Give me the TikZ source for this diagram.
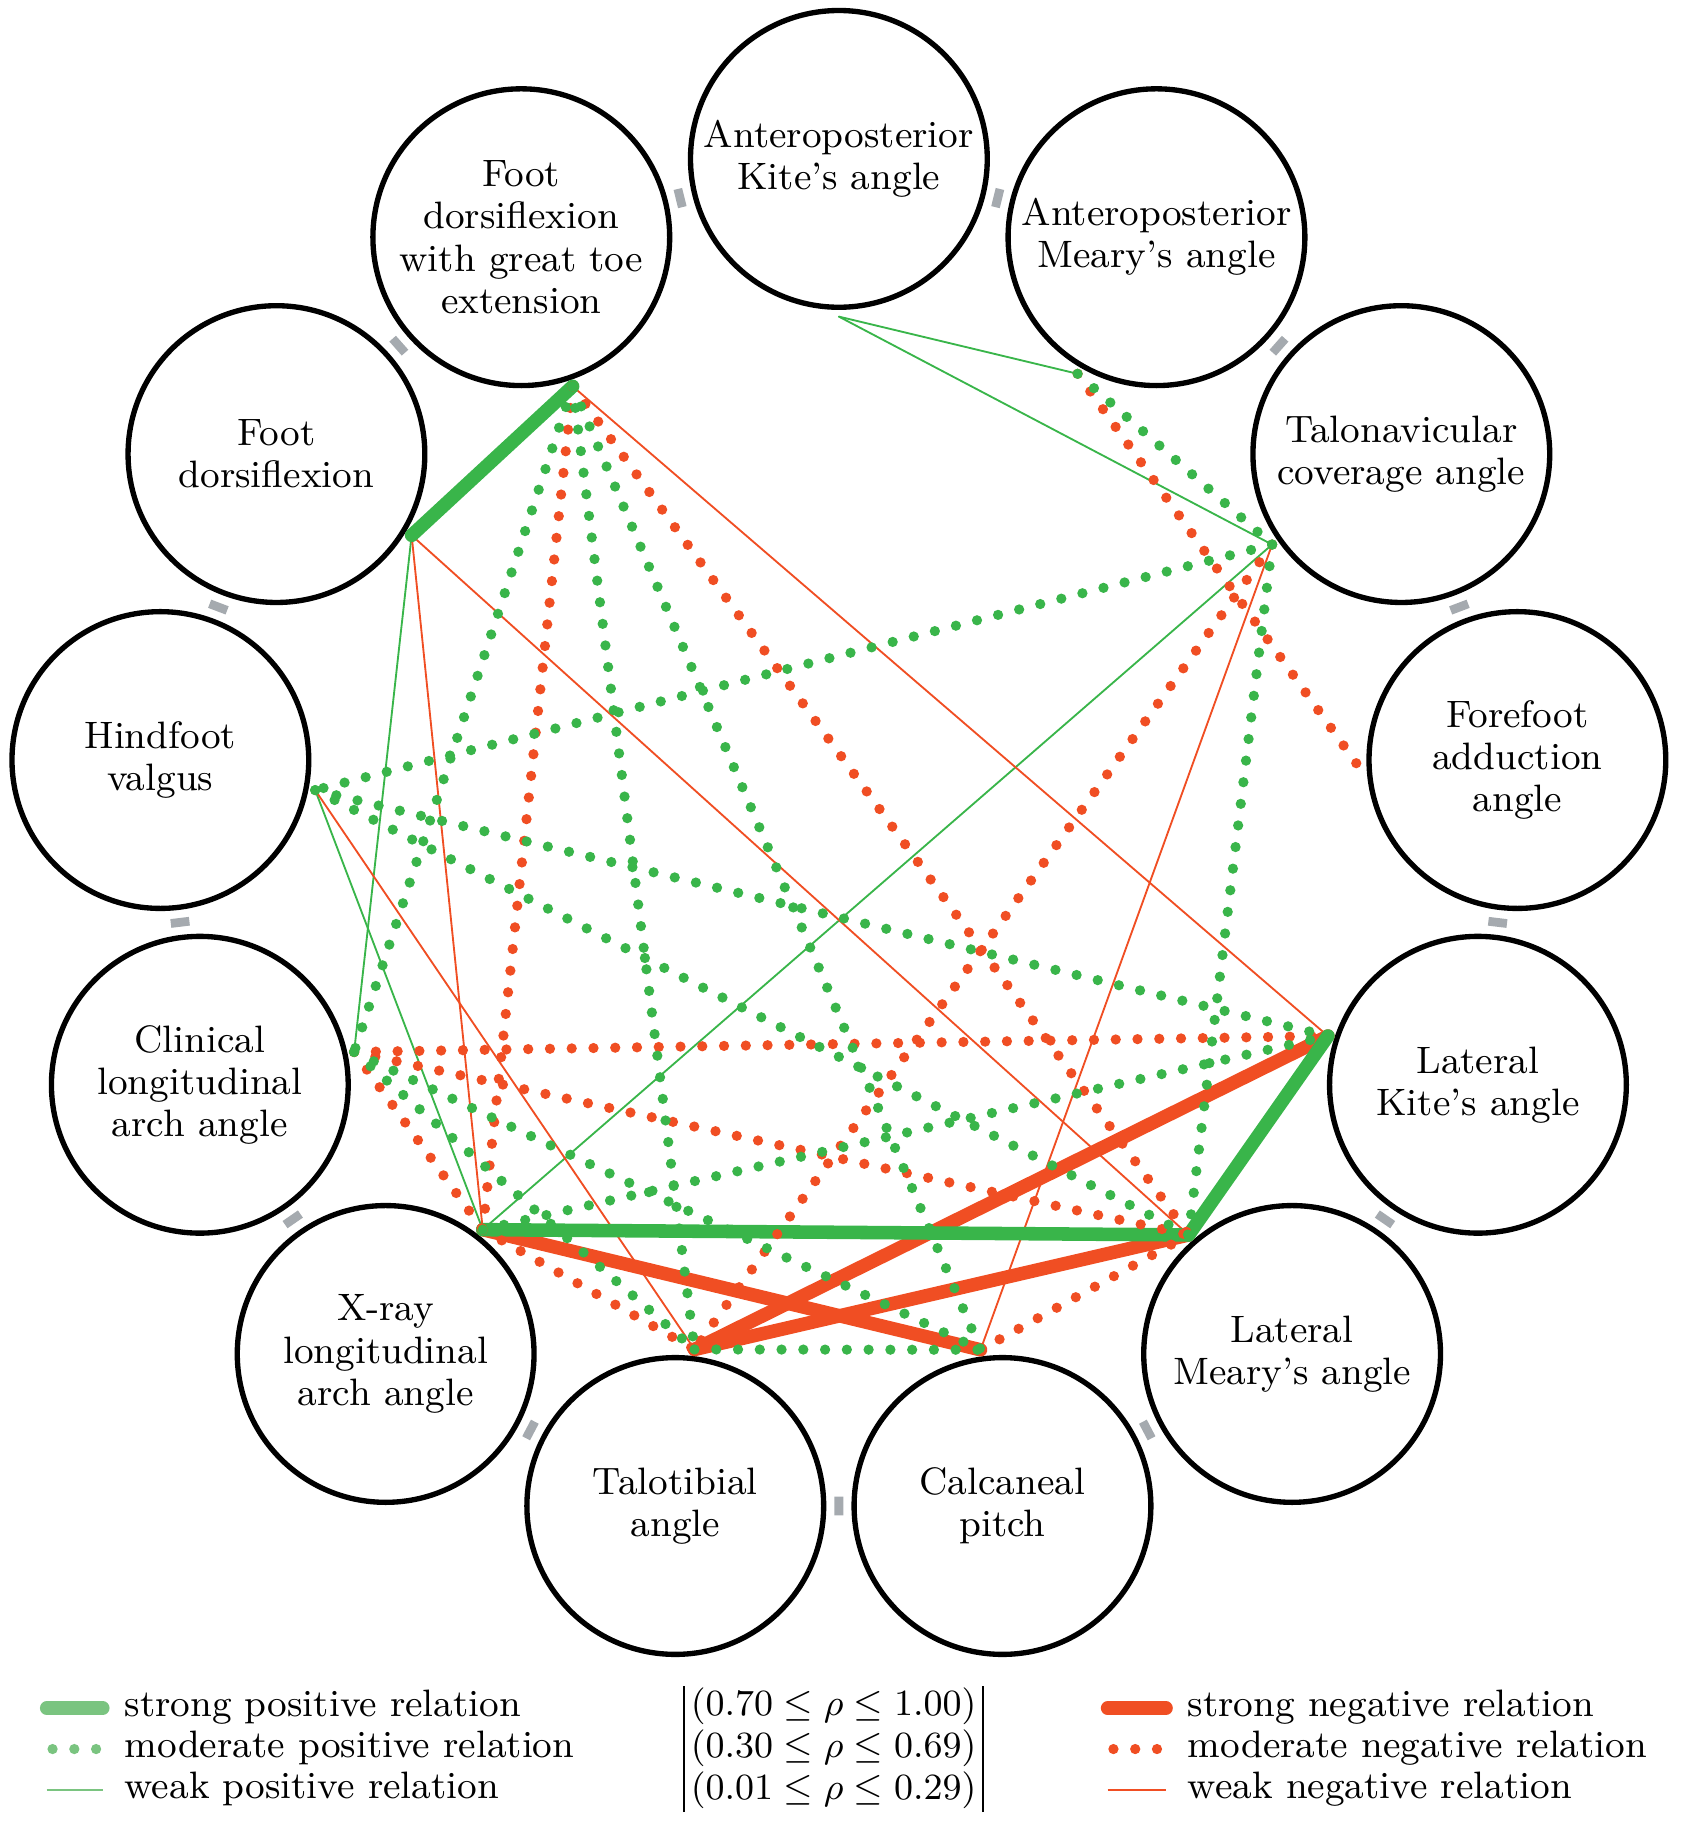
\documentclass[tikz,border=0pt]{standalone}
\usepackage{amsmath, amssymb}
\usepackage{tikz}

\definecolor{posgreen}{RGB}{57,181,74}
\definecolor{negred}{RGB}{240,78,35}
\definecolor{leggreen}{RGB}{122,196,128}
\definecolor{markgray}{RGB}{165,170,175}

\begin{document}
\begin{tikzpicture}[line cap=round]
		\tikzstyle{unit}=[draw,shape=circle,minimum size=2.54cm,inner sep=0pt,outer sep=0.08cm,line width=1.3pt,align=center,font=\fontsize{9.3}{10.25}\selectfont]
		\tikzstyle{gapmark}=[fill=markgray,minimum width=0.16cm,minimum height=0.075cm,inner sep=0pt]
		\tikzstyle{strongpos}=[posgreen,line width=3.3pt]
		\tikzstyle{modpos}=[posgreen,line width=2.5pt,dash pattern=on 0pt off 5.3pt]
		\tikzstyle{weakpos}=[posgreen,line width=0.45pt]
		\tikzstyle{strongneg}=[negred,line width=3.3pt]
		\tikzstyle{modneg}=[negred,line width=2.5pt,dash pattern=on 0pt off 5.3pt]
		\tikzstyle{weakneg}=[negred,line width=0.45pt]
		\tikzstyle{legtext}=[anchor=base west,inner sep=0pt,font=\fontsize{9.3}{10.25}\selectfont]

		\useasboundingbox (-7.18,-8.47) rectangle (7.22,7.21);

		\node[unit](apkite) at (90:5.85){Anteroposterior\\Kite's angle};
		\node[unit](apmeary) at (62.31:5.85){Anteroposterior\\Meary's angle};
		\node[unit](talonav) at (34.62:5.85){Talonavicular\\coverage angle};
		\node[unit](forefoot) at (6.92:5.85){Forefoot\\adduction\\angle};
		\node[unit](latkite) at (-20.77:5.85){Lateral\\Kite's angle};
		\node[unit](latmeary) at (-48.46:5.85){Lateral\\Meary's angle};
		\node[unit](calcaneal) at (-76.15:5.85){Calcaneal\\pitch};
		\node[unit](talotibial) at (-103.85:5.85){Talotibial\\angle};
		\node[unit](xray) at (-131.54:5.85){X-ray\\longitudinal\\arch angle};
		\node[unit](clinical) at (-159.23:5.85){Clinical\\longitudinal\\arch angle};
		\node[unit](hindfoot) at (173.08:5.85){Hindfoot\\valgus};
		\node[unit](fd) at (145.38:5.85){Foot\\dorsiflexion};
		\node[unit](fdgte) at (117.69:5.85){Foot\\dorsiflexion\\with great toe\\extension};

		\foreach \a in {0,...,12}
			\node[gapmark,rotate={76.15-\a*27.692}](g\a) at ({76.15-\a*27.692}:5.68){};

		\coordinate (apkite-p) at (apkite.-90);
		\coordinate (apmeary-p) at (apmeary.-120);
		\coordinate (talonav-p) at (talonav.-145);
		\coordinate (forefoot-p) at (forefoot.-177);
		\coordinate (latkite-p) at (latkite.162);
		\coordinate (latmeary-p) at (latmeary.131);
		\coordinate (calcaneal-p) at (calcaneal.98);
		\coordinate (talotibial-p) at (talotibial.83);
		\coordinate (xray-p) at (xray.52);
		\coordinate (clinical-p) at (clinical.12);
		\coordinate (hindfoot-p) at (hindfoot.-11);
		\coordinate (fd-p) at (fd.-31);
		\coordinate (fdgte-p) at (fdgte.-71);

		\draw[weakpos] (apkite-p) -- (apmeary-p);
		\draw[weakpos] (apkite-p) -- (talonav-p);
		\draw[weakpos] (fd-p) -- (clinical-p);
		\draw[weakpos] (hindfoot-p) -- (xray-p);
		\draw[weakpos] (xray-p) -- (talonav-p);
		\draw[weakneg] (fdgte-p) -- (latkite-p);
		\draw[weakneg] (fd-p) -- (latmeary-p);
		\draw[weakneg] (fd-p) -- (xray-p);
		\draw[weakneg] (hindfoot-p) -- (talotibial-p);
		\draw[weakneg] (talonav-p) -- (calcaneal-p);

		\draw[strongneg] (xray-p) -- (calcaneal-p);
		\draw[strongneg] (talotibial-p) -- (latkite-p);
		\draw[strongneg] (talotibial-p) -- (latmeary-p);
		\draw[strongpos] (fdgte-p) -- (fd-p);
		\draw[strongpos] (xray-p) -- (latmeary-p);
		\draw[strongpos] (latmeary-p) -- (latkite-p);

		\draw[modneg] (apmeary-p) -- (forefoot-p);
		\draw[modneg] (fdgte-p) -- (xray-p);
		\draw[modneg] (fdgte-p) -- (latmeary-p);
		\draw[modneg] (clinical-p) -- (latkite-p);
		\draw[modneg] (clinical-p) -- (latmeary-p);
		\draw[modneg] (clinical-p) -- (xray-p);
		\draw[modneg] (xray-p) -- (talotibial-p);
		\draw[modneg] (calcaneal-p) -- (latmeary-p);
		\draw[modneg] (talonav-p) -- (talotibial-p);

		\draw[modpos] (apmeary-p) -- (talonav-p);
		\draw[modpos] (talonav-p) -- (hindfoot-p);
		\draw[modpos] (talonav-p) -- (latmeary-p);
		\draw[modpos] (fdgte-p) -- (clinical-p);
		\draw[modpos] (fdgte-p) -- (talotibial-p);
		\draw[modpos] (fdgte-p) -- (calcaneal-p);
		\draw[modpos] (hindfoot-p) -- (latkite-p);
		\draw[modpos] (hindfoot-p) -- (latmeary-p);
		\draw[modpos] (clinical-p) -- (calcaneal-p);
		\draw[modpos] (clinical-p) -- (talotibial-p);
		\draw[modpos] (xray-p) -- (latkite-p);
		\draw[modpos] (talotibial-p) -- (calcaneal-p);

		\draw[leggreen,line width=3.3pt] (-6.78,-7.41) -- (-6.30,-7.41);
		\draw[leggreen,line width=2.5pt,dash pattern=on 0pt off 5.3pt] (-6.73,-7.76) -- (-6.30,-7.76);
		\draw[leggreen,line width=0.6pt,line cap=butt] (-6.78,-8.11) -- (-6.30,-8.11);
		\node[legtext](lsp) at (-6.12,-7.48){strong positive relation};
		\node[legtext](lmp) at (-6.12,-7.83){moderate positive relation};
		\node[legtext](lwp) at (-6.12,-8.18){weak positive relation};

		\node[anchor=west,inner sep=0pt,font=\fontsize{9.3}{10.25}\selectfont](range) at (-1.335,-7.76){\begin{tabular}{@{}|@{\,}c@{\,}|@{}}
			$(0.70 \leq \rho \leq 1.00)$\\
			$(0.30 \leq \rho \leq 0.69)$\\
			$(0.01 \leq \rho \leq 0.29)$
		\end{tabular}};

		\draw[negred,line width=3.3pt] (2.30,-7.41) -- (2.80,-7.41);
		\draw[negred,line width=2.5pt,dash pattern=on 0pt off 5.3pt] (2.35,-7.76) -- (2.80,-7.76);
		\draw[negred,line width=0.6pt,line cap=butt] (2.30,-8.11) -- (2.80,-8.11);
		\node[legtext](lsn) at (2.98,-7.48){strong negative relation};
		\node[legtext](lmn) at (2.98,-7.83){moderate negative relation};
		\node[legtext](lwn) at (2.98,-8.18){weak negative relation};
	\end{tikzpicture}
\end{document}
